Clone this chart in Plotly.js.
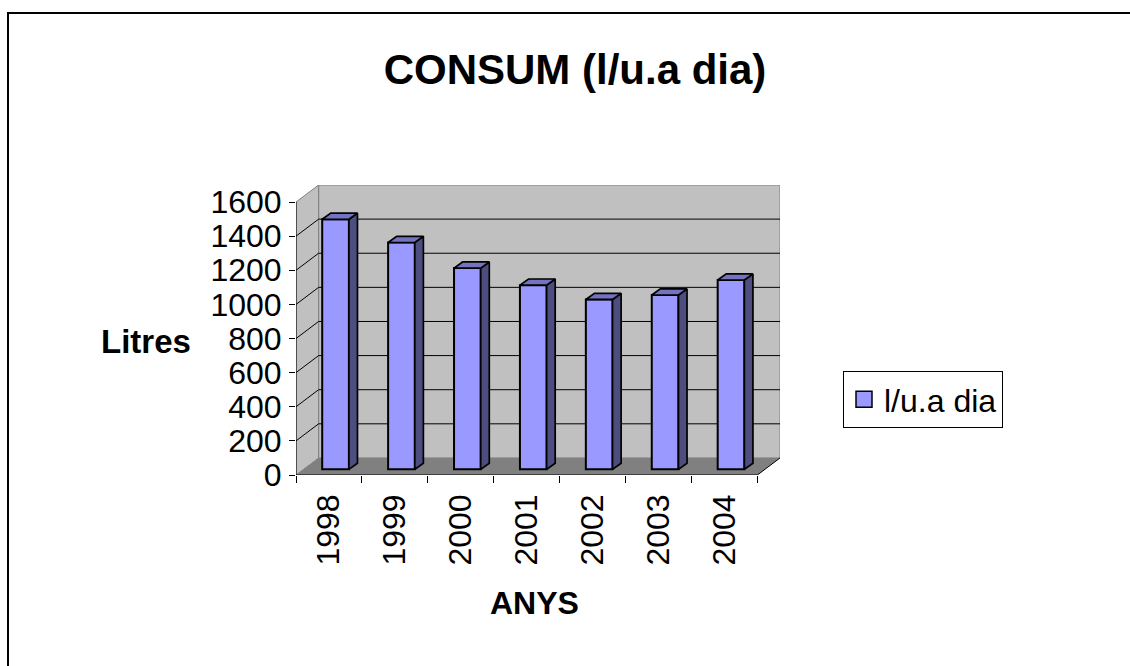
<!DOCTYPE html>
<html>
<head>
<meta charset="utf-8">
<script src="https://cdn.plot.ly/plotly-3.0.1.min.js"></script>
<style>
  html, body { margin: 0; padding: 0; background: #ffffff; }
  #chart { width: 1130px; height: 666px; }
</style>
</head>
<body>
<div id="chart"></div>
<script>
// ---- data ----
const years = ['1998', '1999', '2000', '2001', '2002', '2003', '2004'];
const consum = [1466, 1330, 1180, 1080, 996, 1022, 1110];
const yTicks = [0, 200, 400, 600, 800, 1000, 1200, 1400, 1600];
const seriesName = 'l/u.a dia';

// ---- 3D look geometry (in axis units) ----
const D = 0.343, DY = 100;      // depth of walls
const OX = 0.1, OY = 33;        // bar front-face offset into depth
const BW = 0.405;               // bar width
const SX = 0.13, SY = 36;       // bar depth
const FONT = 'Liberation Sans, Arial, sans-serif';
const xIdx = years.map((_, i) => i);
const xMin = -0.5, xMax = years.length - 0.5;
const yTop = yTicks[yTicks.length - 1];

const traces = [];
// front faces
traces.push({
  type: 'bar', x: xIdx.map(i => i + OX), y: consum, base: OY, width: BW,
  marker: { color: '#9999ff', line: { color: '#000000', width: 2 } },
  showlegend: false, hoverinfo: 'skip'
});
// side and top faces
consum.forEach((v, i) => {
  const l = i + OX - BW / 2, r = i + OX + BW / 2;
  traces.push({
    type: 'scatter', mode: 'lines', fill: 'toself', fillcolor: '#4d4d80',
    x: [r, r + SX, r + SX, r, r], y: [OY, OY + SY, OY + SY + v, OY + v, OY],
    line: { color: '#000000', width: 1.7 }, showlegend: false, hoverinfo: 'skip'
  });
  traces.push({
    type: 'scatter', mode: 'lines', fill: 'toself', fillcolor: '#7373bf',
    x: [l, l + SX, r + SX, r, l], y: [OY + v, OY + v + SY, OY + v + SY, OY + v, OY + v],
    line: { color: '#000000', width: 1.7 }, showlegend: false, hoverinfo: 'skip'
  });
});
// legend entry
traces.push({
  type: 'scatter', mode: 'markers', x: [null], y: [null], name: seriesName,
  marker: { symbol: 'square', size: 20, color: '#9999ff', line: { color: '#000000', width: 1.5 } },
  showlegend: true
});

// ---- walls, floor, grid ----
const shapes = [];
shapes.push({ type: 'rect', layer: 'below', xref: 'x', yref: 'y',
  x0: xMin + D, x1: xMax + D, y0: DY, y1: yTop + DY,
  fillcolor: '#c0c0c0', line: { color: '#808080', width: 1 } });
shapes.push({ type: 'path', layer: 'below', xref: 'x', yref: 'y',
  path: `M ${xMin},0 L ${xMin + D},${DY} L ${xMin + D},${yTop + DY} L ${xMin},${yTop} Z`,
  fillcolor: '#c0c0c0', line: { color: '#808080', width: 1 } });
shapes.push({ type: 'path', layer: 'below', xref: 'x', yref: 'y',
  path: `M ${xMin},0 L ${xMax},0 L ${xMax + D},${DY} L ${xMin + D},${DY} Z`,
  fillcolor: '#808080', line: { width: 0 } });
yTicks.slice(1, -1).forEach(v => {
  shapes.push({ type: 'line', layer: 'below', xref: 'x', yref: 'y',
    x0: xMin + D, x1: xMax + D, y0: v + DY, y1: v + DY, line: { color: '#000000', width: 1 } });
  shapes.push({ type: 'line', layer: 'below', xref: 'x', yref: 'y',
    x0: xMin, x1: xMin + D, y0: v, y1: v + DY, line: { color: '#000000', width: 1 } });
});
shapes.push({ type: 'line', layer: 'below', xref: 'x', yref: 'y',
  x0: xMin, x1: xMin, y0: 0, y1: yTop, line: { color: '#000000', width: 1 } });
shapes.push({ type: 'line', layer: 'below', xref: 'x', yref: 'y',
  x0: xMin, x1: xMax, y0: 0, y1: 0, line: { color: '#000000', width: 1 } });
shapes.push({ type: 'line', layer: 'below', xref: 'x', yref: 'y',
  x0: xMax, x1: xMax + D, y0: 0, y1: DY, line: { color: '#000000', width: 1 } });

// outer frame (left and top edges)
const L = 296, T = 185, W = 484, H = 290;
const px = v => (v - L) / W, py = v => (T + H - v) / H;
shapes.push({ type: 'path', xref: 'paper', yref: 'paper',
  path: `M ${px(8)},${py(720)} L ${px(8)},${py(13)} L ${px(1150)},${py(13)}`,
  line: { color: '#000000', width: 2 } });

const layout = {
  width: 1130, height: 666,
  margin: { l: L, r: 1130 - L - W, t: T, b: 666 - T - H, pad: 0 },
  paper_bgcolor: '#ffffff', plot_bgcolor: 'rgba(0,0,0,0)',
  font: { family: FONT, color: '#000000' },
  title: { text: 'CONSUM (l/u.a dia)', font: { family: FONT, size: 42, weight: 'bold', color: '#000000' },
    xref: 'container', yref: 'container', x: 575 / 1130, xanchor: 'center', y: 1 - 69 / 666, yanchor: 'middle' },
  xaxis: { range: [xMin, xMax + D], tickmode: 'array', tickvals: xIdx, ticktext: years,
    tickangle: -90, ticks: '', showgrid: false, zeroline: false, showline: false,
    ticklabelstandoff: 12, tickfont: { family: FONT, size: 32 }, automargin: false, fixedrange: true,
    minor: { tickmode: 'array', tickvals: [...xIdx.map(i => i - 0.5), xMax], ticks: 'outside',
      ticklen: 7, tickcolor: '#000000', tickwidth: 1, showgrid: false } },
  yaxis: { range: [0, yTop + DY], tickmode: 'array', tickvals: yTicks, ticks: 'outside', ticklen: 6,
    tickcolor: '#000000', tickwidth: 1, showgrid: false, zeroline: false, showline: false,
    ticklabelstandoff: 1, tickfont: { family: FONT, size: 32 }, automargin: false, fixedrange: true },
  showlegend: true,
  legend: { xref: 'container', yref: 'container', x: 843 / 1130, y: 1 - 371 / 666,
    xanchor: 'left', yanchor: 'top', bgcolor: '#ffffff', bordercolor: '#000000', borderwidth: 1,
    font: { family: FONT, size: 32, color: '#000000' } },
  shapes: shapes,
  annotations: [
    { text: 'Litres', xref: 'paper', yref: 'paper', x: px(146), y: py(341), xanchor: 'center', yanchor: 'middle',
      showarrow: false, font: { family: FONT, size: 33, weight: 'bold', color: '#000000' } },
    { text: 'ANYS', xref: 'paper', yref: 'paper', x: px(534), y: py(603), xanchor: 'center', yanchor: 'middle',
      showarrow: false, font: { family: FONT, size: 32, weight: 'bold', color: '#000000' } }
  ]
};

Plotly.newPlot('chart', traces, layout, { staticPlot: true, displayModeBar: false });
</script>
</body>
</html>
